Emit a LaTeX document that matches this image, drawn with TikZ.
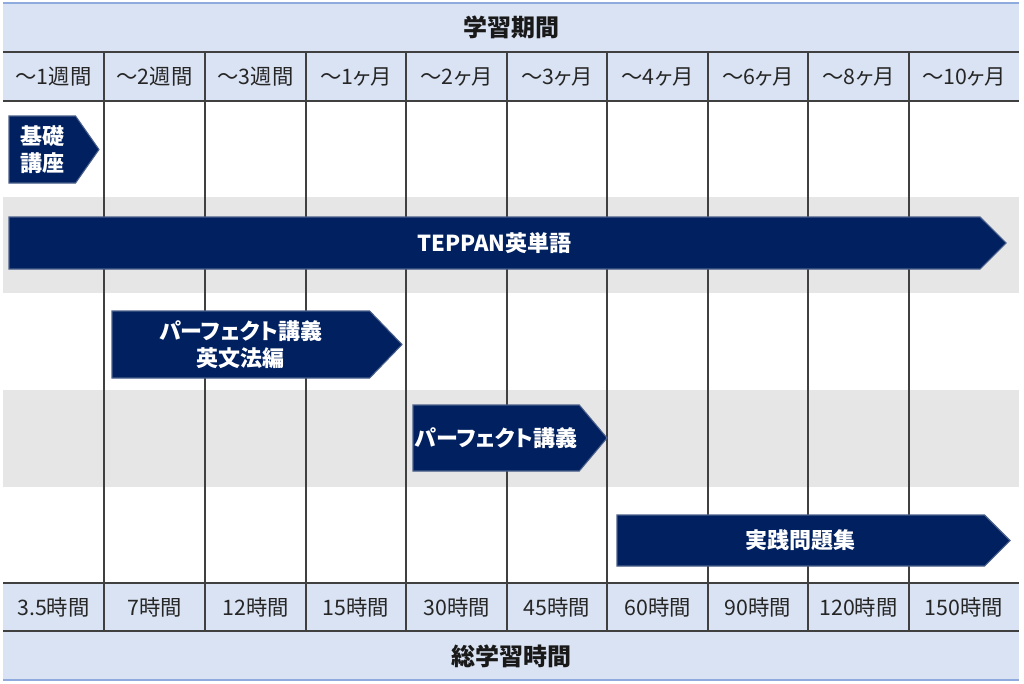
\documentclass[tikz,border=0pt]{standalone}
\usepackage{fontspec}
\setmainfont{Noto Sans CJK JP}[RawFeature=+palt]
\usetikzlibrary{shapes.symbols}
\definecolor{hdrBlue}{HTML}{DAE3F3}
\definecolor{bandGray}{HTML}{E7E6E6}
\definecolor{navy}{HTML}{002060}
\definecolor{ruleGray}{HTML}{404040}
\definecolor{edgeBlue}{HTML}{8FAADC}
\definecolor{courseEdge}{HTML}{4A5F8A}

\begin{document}
\begin{tikzpicture}[
  x=0.75pt, y=-0.75pt,
  line cap=butt,
  rule/.style={draw=ruleGray, line width=1pt},
  edge/.style={draw=edgeBlue, line width=1pt},
  cell/.style={font=\fontsize{16}{18}\selectfont, text=black!85},
  title/.style={font=\fontsize{18}{20}\selectfont\bfseries, text=black!90},
  course/.style={signal, signal to=east, fill=navy, draw=courseEdge, line width=0.8pt,
    text=white, font=\fontsize{16.5}{20}\selectfont\bfseries, align=center,
    anchor=west, inner sep=0pt, outer sep=0pt}
]
  \useasboundingbox (0,0) rectangle (1024,683);

  % header, footer and stripes
  \fill[hdrBlue] (3,3) rectangle (1019,101);
  \fill[hdrBlue] (3,583) rectangle (1019,680);
  \fill[bandGray] (3,197) rectangle (1019,293);
  \fill[bandGray] (3,390) rectangle (1019,487);

  \draw[edge] (3,3) -- (1019,3);
  \draw[edge] (3,680) -- (1019,680);
  \foreach \y in {52,101,583,631}
    \draw[rule] (3,\y) -- (1019,\y);
  \foreach \x in {104,205,306,406,507,607,708,808,909}
    \draw[rule] (\x,52) -- (\x,631);

  \node[title] (period) at (511,27.5) {学習期間};
  \node[title] (totalHours) at (511,656) {総学習時間};

  \foreach \a/\b/\wk/\hr [count=\i] in {
      3/104/～1週間/3.5時間, 104/205/～2週間/7時間, 205/306/～3週間/12時間,
      306/406/～1ヶ月/15時間, 406/507/～2ヶ月/30時間, 507/607/～3ヶ月/45時間,
      607/708/～4ヶ月/60時間, 708/808/～6ヶ月/90時間, 808/909/～8ヶ月/120時間,
      909/1019/～10ヶ月/150時間} {
    \node[cell] (span\i) at ({(\a+\b)/2},76.5) {\wk};
    \node[cell] (hours\i) at ({(\a+\b)/2},607) {\hr};
  }

  % courses
  \node[course, minimum width=67.5pt, minimum height=50.25pt, signal pointer angle=110]
    (kisoKoza) at (9,149.5) {基礎\\講座};
  \node[course, minimum width=747.75pt, minimum height=39pt, signal pointer angle=90]
    (teppan) at (9,243) {TEPPAN英単語};
  \node[course, minimum width=217.5pt, minimum height=50.25pt, signal pointer angle=92]
    (perfectGrammar) at (112,344.5) {パーフェクト講義\\英文法編};
  \node[course, minimum width=145.5pt, minimum height=49.5pt, signal pointer angle=100]
    (perfectLecture) at (413,438) {パーフェクト講義};
  \node[course, minimum width=294.75pt, minimum height=38.25pt, signal pointer angle=90]
    (jissen) at (617,540.5) {実践問題集};
\end{tikzpicture}
\end{document}
